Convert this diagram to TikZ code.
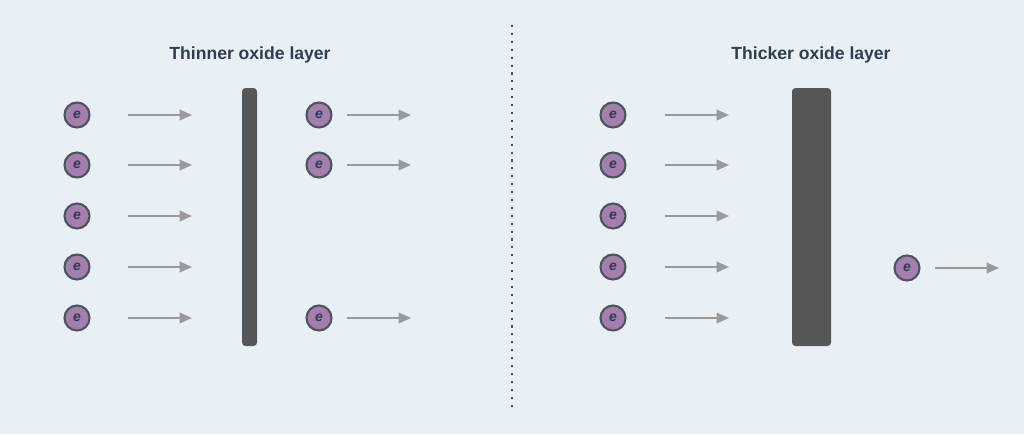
\documentclass[tikz,border=0pt]{standalone}
\usepackage{fontspec}
\setmainfont{Liberation Sans}
\usetikzlibrary{arrows.meta,positioning}
\definecolor{bgcol}{HTML}{E8F0F6}
\definecolor{elcol}{HTML}{A57DAF}
\definecolor{elline}{HTML}{4A565C}
\definecolor{arrcol}{HTML}{9A9A9A}
\definecolor{barcol}{HTML}{575757}
\definecolor{titlecol}{HTML}{2C3E50}

\begin{document}
\begin{tikzpicture}[
    x=0.02cm, y=-0.02cm,
    electron/.style={
        draw=elline, line width=1.2pt, circle, fill=elcol,
        minimum size=0.5cm, inner sep=0pt,
        font=\bfseries\itshape\footnotesize, text=titlecol
    },
    flow/.style={-{Triangle[length=7pt,width=6pt]}, draw=arrcol, line width=1.1pt},
    oxide/.style={fill=barcol, rounded corners=2pt},
    title/.style={font=\bfseries, text=titlecol},
]

% background
\fill[bgcol] (0,0) rectangle (1024,434);

% ── Thinner oxide layer ──
\node[title] (tthin) at (250,55) {Thinner oxide layer};
\fill[oxide] (242,88) rectangle (257,346);
\foreach \i/\y in {1/115,2/165,3/216,4/267,5/318} {
    \node[electron] (ein\i) at (77,\y) {e};
    \coordinate (ain\i) at (128,\y);
    \coordinate (bin\i) at (192,\y);
    \draw[flow] (ain\i) -- (bin\i);
}
\foreach \i/\y in {1/115,2/165,5/318} {
    \node[electron] (eout\i) at (319,\y) {e};
    \coordinate (aout\i) at (347,\y);
    \coordinate (bout\i) at (411,\y);
    \draw[flow] (aout\i) -- (bout\i);
}

% separator
\coordinate (sept) at (512,25);
\coordinate (sepb) at (512,408);
\draw[elline, line width=1.2pt, dash pattern=on 1.2pt off 3.3pt] (sept) -- (sepb);

% ── Thicker oxide layer ──
\node[title] (tthick) at (811,55) {Thicker oxide layer};
\fill[oxide] (792,88) rectangle (831,346);
\foreach \i/\y in {1/115,2/165,3/216,4/267,5/318} {
    \node[electron] (fin\i) at (613,\y) {e};
    \coordinate (cin\i) at (665,\y);
    \coordinate (din\i) at (729,\y);
    \draw[flow] (cin\i) -- (din\i);
}
\node[electron] (fout) at (907,268) {e};
\coordinate (cout) at (935,268);
\coordinate (dout) at (999,268);
\draw[flow] (cout) -- (dout);

\end{tikzpicture}
\end{document}
